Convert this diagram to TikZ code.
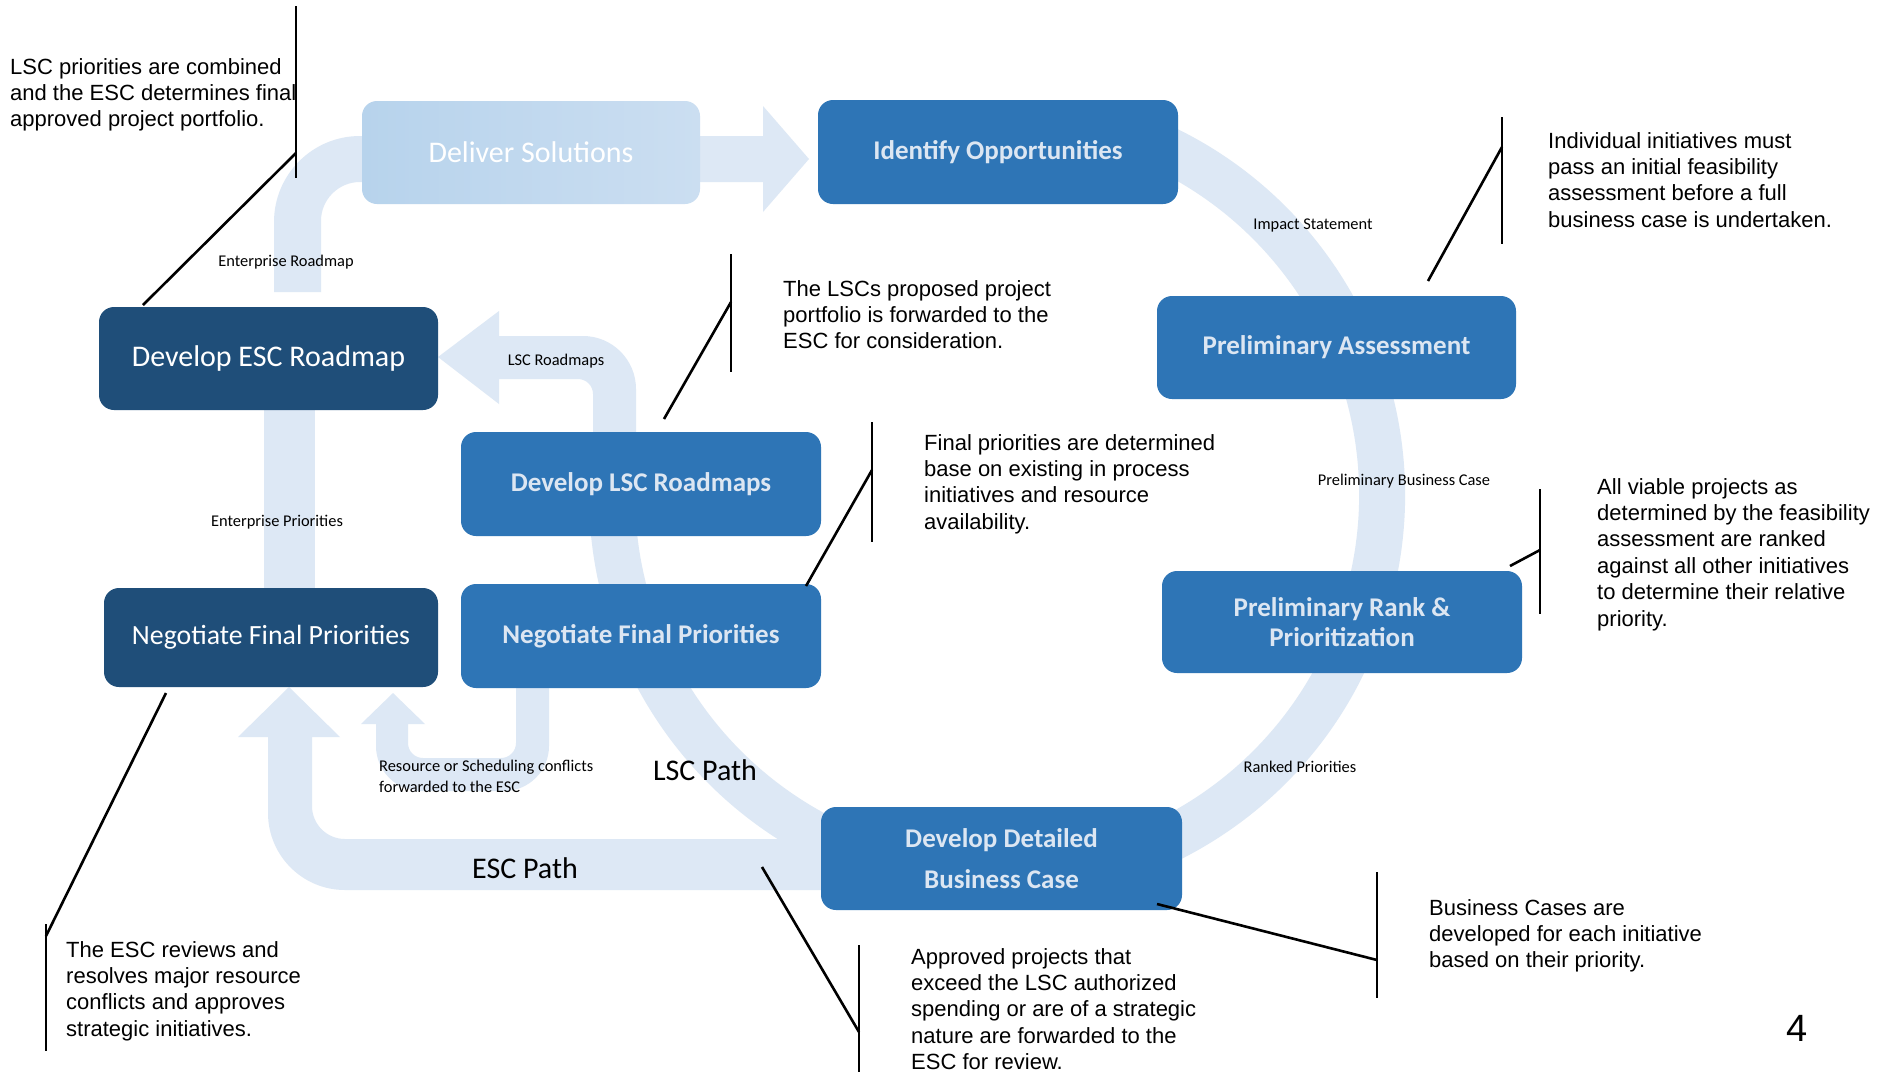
\documentclass[tikz,border=0pt]{standalone}
\usepackage{fontspec}
\setmainfont{Carlito}
\newfontfamily\arialf{Liberation Sans}
\definecolor{bandc}{RGB}{221,232,245}
\definecolor{midblue}{RGB}{46,117,182}
\definecolor{darkblue}{RGB}{31,78,121}
\definecolor{midtext}{RGB}{220,230,242}
\definecolor{delivL}{RGB}{183,211,236}
\definecolor{delivR}{RGB}{203,222,241}
\begin{document}
\begin{tikzpicture}[x=1pt,y=-1pt,
  band/.style={fill=bandc,draw=none},
  bandline/.style={draw=bandc,line width=46pt},
  procbox/.style={rounded corners=15pt,inner sep=0pt,align=center},
  midbox/.style={procbox,fill=midblue,text=midtext,font=\fontsize{27}{30}\selectfont\bfseries},
  darkbox/.style={procbox,fill=darkblue,text=white,font=\fontsize{30}{36}\selectfont},
  lbl/.style={inner sep=0pt,font=\fontsize{16.4}{21}\selectfont},
  pathlbl/.style={inner sep=0pt,font=\fontsize{30}{36}\selectfont},
  callout/.style={inner sep=0pt,align=left,anchor=north west,font=\arialf\fontsize{22}{26.4}\selectfont},
  leader/.style={draw=black,line width=2.6pt}
]
\useasboundingbox (0,0) rectangle (1894,1072);
\fill[white] (0,0) rectangle (1894,1072);

% ---- light flow bands ----
% main cycle (starts hidden behind Identify Opportunities)
\draw[bandline] (1128.7,133.2) arc[start angle=290,end angle=540,radius=385];
% Enterprise Roadmap -> Deliver Solutions -> Identify Opportunities
\fill[band] (274,292) -- (274,222) arc[start angle=180,end angle=270,radius=86]
  -- (763,136) -- (763,106) -- (809,159) -- (763,212) -- (763,182) -- (360,182)
  arc[start angle=270,end angle=180,radius=39] -- (321,292) -- cycle;
% LSC Roadmaps
\fill[band] (593,500) -- (593,394) arc[start angle=0,end angle=-90,radius=15]
  -- (499,379) -- (499,404) -- (438,357) -- (499,311) -- (499,336) -- (583,336)
  arc[start angle=270,end angle=360,radius=53] -- (636,500) -- cycle;
% Enterprise Priorities
\fill[band] (264,405) rectangle (315,593);
% ESC Path
\fill[band] (830,839) -- (345,839) arc[start angle=90,end angle=180,radius=33]
  -- (312,737) -- (340,737) -- (289,687) -- (238,737) -- (268,737) -- (268,813)
  arc[start angle=180,end angle=90,radius=77] -- (830,890) -- cycle;
% Resource or Scheduling conflicts
\fill[band] (549,680) -- (549,746) arc[start angle=0,end angle=90,radius=45]
  -- (421,791) arc[start angle=90,end angle=180,radius=45] -- (376,724)
  -- (361,724) -- (393,693) -- (425,724) -- (408,724) -- (408,743)
  arc[start angle=180,end angle=90,radius=15] -- (501,758)
  arc[start angle=90,end angle=0,radius=15] -- (516,680) -- cycle;

% ---- process boxes ----
\node[procbox,left color=delivL,right color=delivR,text=white,font=\fontsize{30}{36}\selectfont,
  minimum width=338pt,minimum height=103pt] (deliver) at (531,152.5) {Deliver Solutions};
\node[midbox,minimum width=360pt,minimum height=104pt] (identify) at (998,152) {Identify Opportunities};
\node[midbox,minimum width=359pt,minimum height=103pt] (prelima) at (1336.5,347.5) {Preliminary Assessment};
\node[midbox,minimum width=360pt,minimum height=102pt] (prelimr) at (1342,622) {Preliminary Rank \&\\Prioritization};
\node[midbox,font=\fontsize{27}{41}\selectfont\bfseries,minimum width=361pt,minimum height=103pt] (detailed) at (1001.5,858.5) {Develop Detailed\\Business Case};
\node[midbox,minimum width=360pt,minimum height=104pt] (lscroad) at (641,484) {Develop LSC Roadmaps};
\node[midbox,minimum width=360pt,minimum height=104pt] (lscneg) at (641,636) {Negotiate Final Priorities};
\node[darkbox,minimum width=339pt,minimum height=103pt] (escroad) at (268.5,358.5) {Develop ESC Roadmap};
\node[darkbox,font=\fontsize{27.8}{34}\selectfont,minimum width=334pt,minimum height=99pt] (escneg) at (271,637.5) {Negotiate Final Priorities};

% ---- flow labels ----
\node[lbl] (lerm) at (286,262) {Enterprise Roadmap};
\node[lbl] (llscr) at (556,361) {LSC Roadmaps};
\node[lbl] (lepri) at (277,522) {Enterprise Priorities};
\node[lbl] (limp) at (1313,225) {Impact Statement};
\node[lbl] (lpbc) at (1404,481) {Preliminary Business Case};
\node[lbl] (lrank) at (1300,767) {Ranked Priorities};
\node[lbl,align=left,anchor=north west] (lres) at (379,760) {Resource or Scheduling conflicts\\forwarded to the ESC};
\node[pathlbl] (llsc) at (705,770) {LSC Path};
\node[pathlbl] (lesc) at (525,868) {ESC Path};

% ---- callout leaders ----
\coordinate (c1a) at (296,6);    \coordinate (c1b) at (296,178);  \coordinate (c1m) at (296,153);  \coordinate (c1e) at (143,305);
\coordinate (c2a) at (1502,117); \coordinate (c2b) at (1502,244); \coordinate (c2m) at (1502,147); \coordinate (c2e) at (1428,281);
\coordinate (c3a) at (731,254);  \coordinate (c3b) at (731,372);  \coordinate (c3m) at (731,302);  \coordinate (c3e) at (664,419);
\coordinate (c4a) at (872,422);  \coordinate (c4b) at (872,542);  \coordinate (c4m) at (872,470);  \coordinate (c4e) at (806,586);
\coordinate (c5a) at (1540,489); \coordinate (c5b) at (1540,614); \coordinate (c5m) at (1540,550); \coordinate (c5e) at (1510,566);
\coordinate (c6a) at (1377,872); \coordinate (c6b) at (1377,998); \coordinate (c6m) at (1377,960); \coordinate (c6e) at (1157,904);
\coordinate (c7a) at (859,945);  \coordinate (c7b) at (859,1072); \coordinate (c7m) at (859,1032); \coordinate (c7e) at (762,867);
\coordinate (c8a) at (46,924);   \coordinate (c8b) at (46,1051);  \coordinate (c8m) at (46,936);   \coordinate (c8e) at (166,693);
\foreach \i in {1,...,8}{
  \draw[leader] (c\i a) -- (c\i b);
  \draw[leader] (c\i m) -- (c\i e);
}

% ---- callout texts ----
\node[callout] (t1) at (10,58) {LSC priorities are combined\\and the ESC determines final\\approved project portfolio.};
\node[callout] (t2) at (1548,132) {Individual initiatives must\\pass an initial feasibility\\assessment before a full\\business case is undertaken.};
\node[callout] (t3) at (783,280) {The LSCs proposed project\\portfolio is forwarded to the\\ESC for consideration.};
\node[callout] (t4) at (924,434) {Final priorities are determined\\base on existing in process\\initiatives and resource\\availability.};
\node[callout] (t5) at (1597,478) {All viable projects as\\determined by the feasibility\\assessment are ranked\\against all other initiatives\\to determine their relative\\priority.};
\node[callout] (t6) at (1429,899) {Business Cases are\\developed for each initiative\\based on their priority.};
\node[callout] (t7) at (911,948) {Approved projects that\\exceed the LSC authorized\\spending or are of a strategic\\nature are forwarded to the\\ESC for review.};
\node[callout] (t8) at (66,941) {The ESC reviews and\\resolves major resource\\conflicts and approves\\strategic initiatives.};
\node[inner sep=0pt,font=\arialf\fontsize{38}{40}\selectfont] (pagenum) at (1797,1028) {4};
\end{tikzpicture}
\end{document}
